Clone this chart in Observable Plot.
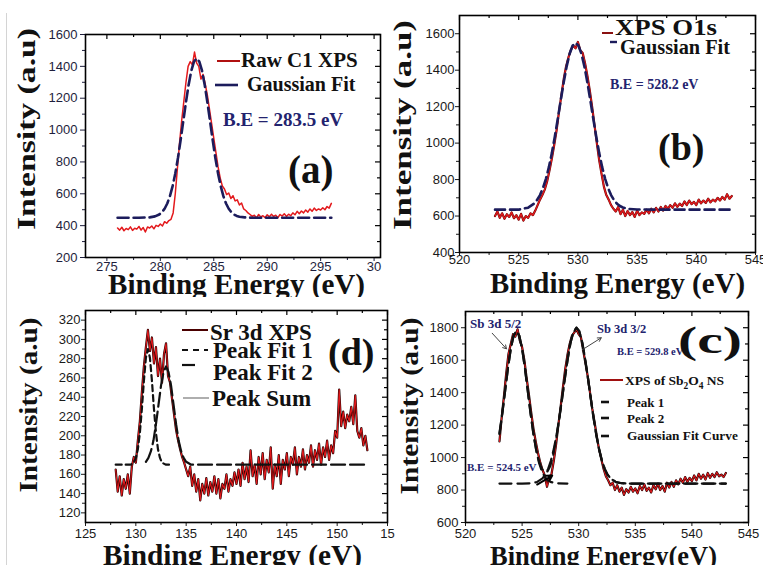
<!DOCTYPE html>
<html>
<head>
<meta charset="utf-8">
<script src="https://cdn.jsdelivr.net/npm/d3@7"></script>
<script src="https://cdn.jsdelivr.net/npm/@observablehq/plot@0.6"></script>
<style>
  body { margin: 0; background: #fff; }
  #fig { position: relative; width: 763px; height: 565px; overflow: hidden; background: #fff; }
  .panel { position: absolute; overflow: hidden; }
  .panel svg { display: block; }
  #edge { position: absolute; left: 6px; top: 13px; width: 1px; height: 552px; background: #d4d4d4; }
</style>
</head>
<body>
<div id="fig"><div id="edge"></div></div>
<script>
// ---------- (a) C 1s spectrum ----------
const c1Start = 276.0, c1Step = 0.2;
const c1Raw = [
  385, 372, 390, 368, 382, 375, 392, 370, 384, 378,
  395, 372, 388, 360, 392, 385, 398, 380, 402, 395,
  410, 398, 425, 415, 432, 440, 480, 600, 760, 920,
  1060, 1180, 1300, 1400, 1430, 1410, 1490, 1420, 1400, 1320,
  1350, 1290, 1220, 1130, 1040, 950, 860, 770, 700, 650,
  630, 595, 605, 570, 588, 555, 562, 530, 542, 505,
  495, 480, 470, 458, 465, 448, 470, 455, 462, 450,
  468, 455, 472, 458, 465, 450, 470, 460, 475, 458,
  472, 462, 480, 468, 490, 475, 492, 480, 498, 485,
  505, 490, 510, 495, 505, 498, 512, 500, 520, 510,
  540
];
const c1FitE = [276, 277, 278, 279, 279.5, 279.9, 280.15, 280.4, 280.65, 280.9, 281.15, 281.4, 281.65, 281.9, 282.15, 282.4, 282.65, 282.9, 283.15, 283.4, 283.65, 283.9, 284.15, 284.4, 284.65, 284.9, 285.15, 285.4, 285.65, 285.9, 286.15, 286.4, 286.65, 286.9, 287.15, 287.4, 287.9, 288.5, 290, 293, 296];
const c1FitI = [450, 450, 450, 452, 458, 470, 484, 506, 539, 585, 648, 728, 825, 937, 1057, 1176, 1285, 1373, 1430, 1450, 1430, 1373, 1285, 1176, 1057, 937, 825, 728, 648, 585, 539, 506, 484, 470, 461, 456, 452, 450, 450, 450, 450];
const c1TicksX = [275, 280, 285, 290, 295, 300];
const c1TickText = ["275", "280", "285", "290", "295", "30"];
const c1MinorX = [277.5, 282.5, 287.5, 292.5, 297.5];
const c1TicksY = [200, 400, 600, 800, 1000, 1200, 1400, 1600];
const c1MinorY = [300, 500, 700, 900, 1100, 1300, 1500];

// ---------- (b) O 1s spectrum ----------
const o1Start = 523.0, o1Step = 0.2;
const o1Raw = [
  600, 625, 590, 615, 585, 610, 595, 620, 588, 605,
  580, 612, 575, 600, 590, 615, 605, 630, 660, 690,
  715, 745, 790, 850, 915, 990, 1070, 1170, 1260, 1350,
  1420, 1470, 1510, 1535, 1520, 1555, 1510, 1495, 1440, 1370,
  1290, 1200, 1100, 1000, 905, 830, 760, 715, 690, 660,
  640, 625, 650, 610, 635, 600, 628, 605, 622, 595,
  630, 605, 620, 612, 635, 615, 640, 620, 645, 625,
  650, 630, 655, 640, 660, 645, 670, 650, 668, 655,
  680, 660, 685, 665, 678, 660, 690, 670, 685, 672,
  695, 675, 690, 680, 700, 685, 705, 690, 720, 695,
  710
];
const o1FitE = [523, 524, 525, 525.8, 526.3, 526.55, 526.8, 527.05, 527.3, 527.55, 527.8, 528.05, 528.3, 528.55, 528.8, 529.05, 529.3, 529.55, 529.8, 530.05, 530.3, 530.55, 530.8, 531.05, 531.3, 531.55, 531.8, 532.05, 532.3, 532.55, 532.8, 533.05, 533.3, 533.55, 533.8, 534.3, 535, 537, 540, 543];
const o1FitI = [635, 635, 635, 646, 668, 688, 715, 754, 804, 868, 945, 1035, 1133, 1235, 1333, 1421, 1490, 1534, 1550, 1534, 1490, 1421, 1333, 1235, 1133, 1035, 945, 868, 804, 754, 715, 688, 668, 655, 647, 639, 636, 635, 635, 635];
const o1TicksX = [520, 525, 530, 535, 540, 545];
const o1MinorX = [522.5, 527.5, 532.5, 537.5, 542.5];
const o1TicksY = [400, 600, 800, 1000, 1200, 1400, 1600];
const o1MinorY = [500, 700, 900, 1100, 1300, 1500];

// ---------- (d) Sr 3d spectrum ----------
const srStart = 128.0, srStep = 0.2;
const srRaw = [
  165, 142, 158, 138, 155, 145, 160, 140, 168, 178,
  172, 195, 215, 245, 272, 292, 310, 288, 302, 275,
  292, 262, 280, 255, 285, 296, 262, 255, 238, 222,
  206, 195, 186, 178, 172, 165, 158, 168, 148, 160,
  142, 155, 133, 150, 140, 156, 138, 152, 142, 158,
  140, 155, 135, 150, 145, 160, 142, 155, 148, 162,
  150, 165, 148, 172, 155, 168, 152, 185, 158, 170,
  150, 178, 160, 182, 155, 175, 162, 188, 145, 170,
  158, 180, 150, 175, 165, 182, 158, 178, 170, 188,
  160, 178, 168, 186, 165, 180, 172, 190, 168, 185,
  175, 192, 170, 188, 178, 195, 175, 190, 182, 205,
  198, 248, 210, 225, 208, 222, 215, 230, 212, 242,
  205, 198, 208, 190, 200, 185
];
const srFit1E = [128, 129, 129.5, 129.8, 130.0, 130.2, 130.4, 130.6, 130.8, 131.0, 131.2, 131.4, 131.6, 131.8, 132.0, 132.2, 132.4, 132.6, 133.0, 133.5];
const srFit1I = [170, 170, 170, 172, 177, 186, 203, 228, 257, 281, 290, 281, 257, 228, 203, 186, 177, 172, 170, 170];
const srFit2E = [131.0, 131.25, 131.5, 131.75, 132.0, 132.25, 132.5, 132.75, 133.0, 133.25, 133.5, 133.75, 134.0, 134.25, 134.5, 134.75, 135.0, 135.5, 136, 140, 145, 150, 153];
const srFit2I = [173, 177, 184, 195, 212, 232, 252, 266, 272, 266, 252, 232, 212, 195, 184, 177, 173, 170, 170, 170, 170, 170, 170];
const srTicksX = [125, 130, 135, 140, 145, 150, 155];
const srTickText = ["125", "130", "135", "140", "145", "150", "15"];
const srMinorX = [127.5, 132.5, 137.5, 142.5, 147.5, 152.5];
const srTicksY = [120, 140, 160, 180, 200, 220, 240, 260, 280, 300, 320];
const srMinorY = [130, 150, 170, 190, 210, 230, 250, 270, 290, 310];

// ---------- (c) Sb 3d spectrum ----------
const sbStart = 523.0, sbStep = 0.2;
const sbRaw = [
  1100, 1250, 1380, 1520, 1640, 1700, 1760, 1745, 1790, 1720,
  1680, 1600, 1490, 1390, 1280, 1180, 1100, 1030, 970, 925,
  890, 820, 880, 900, 980, 1080, 1200, 1310, 1430, 1540,
  1630, 1700, 1750, 1770, 1790, 1760, 1740, 1660, 1580, 1500,
  1400, 1300, 1220, 1130, 1050, 990, 930, 885, 860, 830,
  845, 800, 830, 790, 815, 770, 805, 785, 820, 790,
  810, 780, 825, 800, 835, 795, 815, 785, 830, 805,
  840, 800, 825, 790, 845, 815, 850, 820, 860, 835,
  870, 845, 880, 850, 875, 855, 890, 860, 900, 870,
  895, 865, 905, 875, 900, 880, 910, 885, 895, 880,
  905
];
const sbPeak1E = [523.0, 523.25, 523.5, 523.75, 524.0, 524.25, 524.5, 524.75, 525.0, 525.25, 525.5, 525.75, 526.0, 526.25, 526.5, 526.75, 527.0, 527.25, 527.5, 528.0, 529.0];
const sbPeak1I = [1145, 1270, 1410, 1550, 1670, 1751, 1780, 1751, 1670, 1550, 1410, 1270, 1145, 1043, 967, 915, 881, 861, 850, 842, 840];
const sbPeak2E = [523, 525, 525.8, 526.3, 526.8, 527.05, 527.3, 527.55, 527.8, 528.05, 528.3, 528.55, 528.8, 529.05, 529.3, 529.55, 529.8, 530.05, 530.3, 530.55, 530.8, 531.05, 531.3, 531.55, 531.8, 532.05, 532.3, 532.55, 532.8, 533.3, 533.8, 534.5, 538, 543];
const sbPeak2I = [840, 840, 842, 849, 872, 895, 930, 982, 1052, 1141, 1250, 1372, 1498, 1616, 1714, 1778, 1800, 1778, 1714, 1616, 1498, 1372, 1250, 1141, 1052, 982, 930, 895, 872, 849, 842, 840, 840, 840];
const sbFitE = [523.0, 523.25, 523.5, 523.75, 524.0, 524.25, 524.5, 524.75, 525.0, 525.25, 525.5, 525.75, 526.0, 526.25, 526.5, 526.75, 527.0, 527.25, 527.5, 527.75, 528.0, 528.25, 528.5, 528.75, 529.0, 529.25, 529.5, 529.8, 530.05, 530.3, 530.55, 530.8, 531.05, 531.3, 531.55, 531.8, 532.05, 532.3, 532.55, 532.8, 533.3, 533.8, 534.5, 543];
const sbFitI = [1150, 1275, 1412, 1551, 1671, 1752, 1781, 1752, 1671, 1551, 1412, 1272, 1148, 1047, 974, 930, 912, 915, 950, 1020, 1110, 1225, 1345, 1475, 1595, 1700, 1765, 1800, 1778, 1714, 1616, 1498, 1372, 1250, 1141, 1052, 982, 930, 895, 872, 849, 842, 840, 840];
// callout arrows: label end -> curve end, in (energy, intensity)
const sbCallouts = [
  {e1: 522.36, i1: 1766, e2: 523.62, i2: 1670},
  {e1: 530.31, i1: 1664, e2: 531.99, i2: 1738}
];
const sbValleyArrow = [{e1: 526.33, i1: 834, e2: 527.66, i2: 889}];
const sbTicksX = [520, 525, 530, 535, 540, 545];
const sbMinorX = [522.5, 527.5, 532.5, 537.5, 542.5];
const sbTicksY = [600, 800, 1000, 1200, 1400, 1600, 1800];
const sbMinorY = [700, 900, 1100, 1300, 1500, 1700];

// ---------- helpers ----------
const SERIF = "'Liberation Serif','Times New Roman',Times,serif";
const SANS = "'Liberation Sans',Arial,Helvetica,sans-serif";
const RED = "#e3191c", NAVY = "#1c1c5c", INK = "#111", BE = "#23236e";

const sampled = (start, step, vals) => vals.map((v, i) => ({e: +(start + i * step).toFixed(2), v}));
const paired = (es, vs) => es.map((e, k) => ({e, v: vs[k]}));

const fig = document.getElementById("fig");

function panel(cfg) {
  const [mt, mr, mb, ml] = cfg.margin;
  const fw = cfg.width - ml - mr, fh = cfg.height - mt - mb;
  const xText = cfg.xText ? new Map(cfg.xTicks.map((t, k) => [t, cfg.xText[k]])) : null;
  const svg = Plot.plot({
    width: cfg.width, height: cfg.height,
    marginTop: mt, marginRight: mr, marginBottom: mb, marginLeft: ml,
    x: {domain: cfg.x, label: null},
    y: {domain: cfg.y, label: null},
    style: {fontFamily: SANS, fontSize: "13px", color: cfg.tickColor || "#1a1a1a", background: "transparent"},
    marks: [
      ...cfg.marks,
      Plot.axisX({ticks: cfg.xTicks, tickSize: cfg.xTick[0], tickPadding: cfg.xTick[1], label: null,
        tickFormat: d => xText ? xText.get(d) : String(d)}),
      Plot.axisX({ticks: cfg.xMinor, tickSize: 3, tickFormat: () => "", label: null}),
      Plot.axisY({ticks: cfg.yTicks, tickSize: cfg.yTick[0], tickPadding: cfg.yTick[1], label: null,
        tickFormat: d => String(d)}),
      Plot.axisY({ticks: cfg.yMinor, tickSize: 3, tickFormat: () => "", label: null}),
      // inward ticks on the top and right edges of the box
      Plot.tickX(cfg.xTicks, {x: d => d, insetBottom: fh - 5, stroke: "#000", strokeWidth: 1.2}),
      Plot.tickX(cfg.xMinor, {x: d => d, insetBottom: fh - 3, stroke: "#000", strokeWidth: 1.2}),
      Plot.tickY(cfg.yTicks, {y: d => d, insetLeft: fw - 5, stroke: "#000", strokeWidth: 1.2}),
      Plot.tickY(cfg.yMinor, {y: d => d, insetLeft: fw - 3, stroke: "#000", strokeWidth: 1.2}),
      Plot.frame({stroke: "#000", strokeWidth: 1.6})
    ]
  });
  const box = document.createElement("div");
  box.className = "panel";
  Object.assign(box.style, {left: cfg.left + "px", top: cfg.top + "px", width: cfg.width + "px", height: cfg.height + "px"});
  box.appendChild(svg);
  fig.appendChild(box);
  return d3.select(svg);
}

function text(s, t) {
  const el = s.append("text")
    .attr("font-family", t.family || SERIF)
    .attr("font-weight", t.weight || "bold")
    .attr("font-size", t.size)
    .attr("fill", t.fill || INK)
    .attr("text-anchor", t.anchor || "start");
  if (t.rotate) el.attr("transform", `translate(${t.x},${t.y}) rotate(${t.rotate})`).attr("dy", "0.3em");
  else el.attr("x", t.x).attr("y", t.y);
  if (t.length) el.attr("textLength", t.length).attr("lengthAdjust", "spacingAndGlyphs");
  if (t.parts) {
    t.parts.forEach(([str, sub], k) => {
      const prev = k > 0 ? t.parts[k - 1][1] : 0;
      const sp = el.append("tspan").text(str);
      if (sub) sp.attr("font-size", t.size * 0.7).attr("dy", 4);
      else if (prev) sp.attr("dy", -4);
    });
  } else el.text(t.text);
}

function swatch(s, x1, x2, y, stroke, width, dash) {
  s.append("line").attr("x1", x1).attr("x2", x2).attr("y1", y).attr("y2", y)
    .attr("stroke", stroke).attr("stroke-width", width)
    .attr("stroke-dasharray", dash || null);
}

// ---------- panel (a) ----------
{
  const s = panel({
    left: 0, top: 0, width: 383, height: 297, margin: [34, 3, 40, 85],
    x: [273, 300.6], y: [200, 1600],
    xTicks: c1TicksX, xText: c1TickText, xMinor: c1MinorX, yTicks: c1TicksY, yMinor: c1MinorY,
    xTick: [4, 0], yTick: [5, 3], tickColor: "#1e1e3c",
    marks: [
      Plot.line(sampled(c1Start, c1Step, c1Raw), {x: "e", y: "v", stroke: RED, strokeWidth: 1.5}),
      Plot.line(paired(c1FitE, c1FitI), {x: "e", y: "v", stroke: NAVY, strokeWidth: 2.6, strokeDasharray: "11,5"})
    ]
  });
  swatch(s, 217, 240, 61, "#b01010", 2);
  text(s, {x: 241, y: 67, text: "Raw C1 XPS", size: 21});
  swatch(s, 215, 238, 85, NAVY, 2.6);
  text(s, {x: 247, y: 91, text: "Gaussian Fit", size: 20});
  text(s, {x: 223, y: 126, text: "B.E = 283.5 eV", size: 19, fill: BE});
  text(s, {x: 288, y: 183, text: "(a)", size: 39});
  text(s, {x: 27, y: 129, text: "Intensity (a.u)", size: 26, rotate: -90, anchor: "middle", length: 202});
  text(s, {x: 236.5, y: 294, text: "Binding Energy (eV)", size: 29, anchor: "middle", length: 257});
}

// ---------- panel (b) ----------
{
  const s = panel({
    left: 383, top: 0, width: 380, height: 300, margin: [15, 8, 48, 76],
    x: [520, 545], y: [400, 1700],
    xTicks: o1TicksX, xMinor: o1MinorX, yTicks: o1TicksY, yMinor: o1MinorY,
    xTick: [3, -1], yTick: [4, 1],
    marks: [
      Plot.line(sampled(o1Start, o1Step, o1Raw), {x: "e", y: "v", stroke: "#6a0808", strokeWidth: 2.2}),
      Plot.line(sampled(o1Start, o1Step, o1Raw), {x: "e", y: "v", stroke: RED, strokeWidth: 1.3}),
      Plot.line(paired(o1FitE, o1FitI), {x: "e", y: "v", stroke: NAVY, strokeWidth: 2.6, strokeDasharray: "10,5"})
    ]
  });
  swatch(s, 219, 230, 33, "#8a1010", 2);
  text(s, {x: 232, y: 35, text: "XPS O1s", size: 23, length: 102});
  swatch(s, 227, 234, 42, NAVY, 2.4);
  text(s, {x: 237, y: 54, text: "Gaussian Fit", size: 20, length: 110});
  text(s, {x: 227, y: 89, text: "B.E = 528.2 eV", size: 14, fill: BE});
  text(s, {x: 275, y: 160, text: "(b)", size: 38});
  text(s, {x: 20, y: 125, text: "Intensity (a.u)", size: 26, rotate: -90, anchor: "middle", length: 210});
  text(s, {x: 234.5, y: 293, text: "Binding Energy (eV)", size: 29, anchor: "middle", length: 255});
}

// ---------- panel (d) ----------
{
  const s = panel({
    left: 0, top: 298, width: 395, height: 267, margin: [12, 8, 43, 85],
    x: [125, 155], y: [110, 330],
    xTicks: srTicksX, xText: srTickText, xMinor: srMinorX, yTicks: srTicksY, yMinor: srMinorY,
    xTick: [4, 2], yTick: [4, 1],
    marks: [
      Plot.line(sampled(srStart, srStep, srRaw), {x: "e", y: "v", stroke: "#1a0000", strokeWidth: 2.2}),
      Plot.line(sampled(srStart, srStep, srRaw), {x: "e", y: "v", stroke: RED, strokeWidth: 1.1}),
      Plot.line(paired(srFit1E, srFit1I), {x: "e", y: "v", stroke: INK, strokeWidth: 2.2, strokeDasharray: "6,4"}),
      Plot.line(paired(srFit2E, srFit2I), {x: "e", y: "v", stroke: INK, strokeWidth: 2.2, strokeDasharray: "14,5"})
    ]
  });
  swatch(s, 182, 208, 32, "#4a0000", 2);
  text(s, {x: 210, y: 42, text: "Sr 3d XPS", size: 23});
  swatch(s, 182, 208, 52, INK, 2, "6,5");
  text(s, {x: 213, y: 60, text: "Peak Fit 1", size: 23});
  swatch(s, 182, 208, 67, INK, 2.2, "13,13");
  text(s, {x: 213, y: 82, text: "Peak Fit 2", size: 23});
  swatch(s, 183, 209, 100, "#9a9a9a", 1.6);
  text(s, {x: 212, y: 108, text: "Peak Sum", size: 23});
  text(s, {x: 328, y: 67, text: "(d)", size: 38});
  text(s, {x: 29, y: 107, text: "Intensity (a.u)", size: 25, rotate: -90, anchor: "middle", length: 175});
  text(s, {x: 232.5, y: 267, text: "Binding Energy (eV)", size: 29, anchor: "middle", length: 259});
}

// ---------- panel (c) ----------
{
  const s = panel({
    left: 391, top: 298, width: 372, height: 267, margin: [13, 15, 43, 74],
    x: [520, 545], y: [600, 1900],
    xTicks: sbTicksX, xMinor: sbMinorX, yTicks: sbTicksY, yMinor: sbMinorY,
    xTick: [4, 2], yTick: [4, 3],
    marks: [
      Plot.line(sampled(sbStart, sbStep, sbRaw), {x: "e", y: "v", stroke: "#1a0000", strokeWidth: 2.2}),
      Plot.line(sampled(sbStart, sbStep, sbRaw), {x: "e", y: "v", stroke: RED, strokeWidth: 1.1}),
      Plot.line(paired(sbPeak1E, sbPeak1I), {x: "e", y: "v", stroke: INK, strokeWidth: 2.2, strokeDasharray: "12,6"}),
      Plot.line(paired(sbPeak2E, sbPeak2I), {x: "e", y: "v", stroke: INK, strokeWidth: 2.2, strokeDasharray: "12,6"}),
      Plot.line(paired(sbFitE, sbFitI), {x: "e", y: "v", stroke: INK, strokeWidth: 2.2, strokeDasharray: "12,6"}),
      Plot.arrow(sbCallouts, {x1: "e1", y1: "i1", x2: "e2", y2: "i2", stroke: "#444", strokeWidth: 1, headLength: 6}),
      Plot.arrow(sbValleyArrow, {x1: "e1", y1: "i1", x2: "e2", y2: "i2", stroke: "#000", strokeWidth: 2, headLength: 6})
    ]
  });
  text(s, {x: 79, y: 30, text: "Sb 3d 5/2", size: 13, fill: BE});
  text(s, {x: 206, y: 35, text: "Sb 3d 3/2", size: 12.5, fill: BE});
  text(s, {x: 226, y: 57, text: "B.E = 529.8 eV", size: 10.5, fill: BE});
  text(s, {x: 287, y: 55, text: "(c)", size: 38, length: 64});
  swatch(s, 209, 232, 82, "#a01010", 2);
  text(s, {x: 234, y: 87, size: 13.5, parts: [["XPS of Sb", 0], ["2", 1], ["O", 0], ["4", 1], [" NS", 0]]});
  swatch(s, 210, 218, 104, INK, 2.6);
  text(s, {x: 236, y: 109, text: "Peak 1", size: 13});
  swatch(s, 210, 218, 120, INK, 2.6);
  text(s, {x: 236, y: 125, text: "Peak 2", size: 13});
  swatch(s, 210, 218, 138, INK, 2.6);
  text(s, {x: 236, y: 142, text: "Gaussian Fit Curve", size: 13.3});
  text(s, {x: 76, y: 173, text: "B.E = 524.5 eV", size: 11, fill: BE});
  text(s, {x: 19, y: 108, text: "Intensity (a.u)", size: 25, rotate: -90, anchor: "middle", length: 177});
  text(s, {x: 212.5, y: 267, text: "Binding Energy(eV)", size: 28, anchor: "middle", length: 227});
}
</script>
</body>
</html>
